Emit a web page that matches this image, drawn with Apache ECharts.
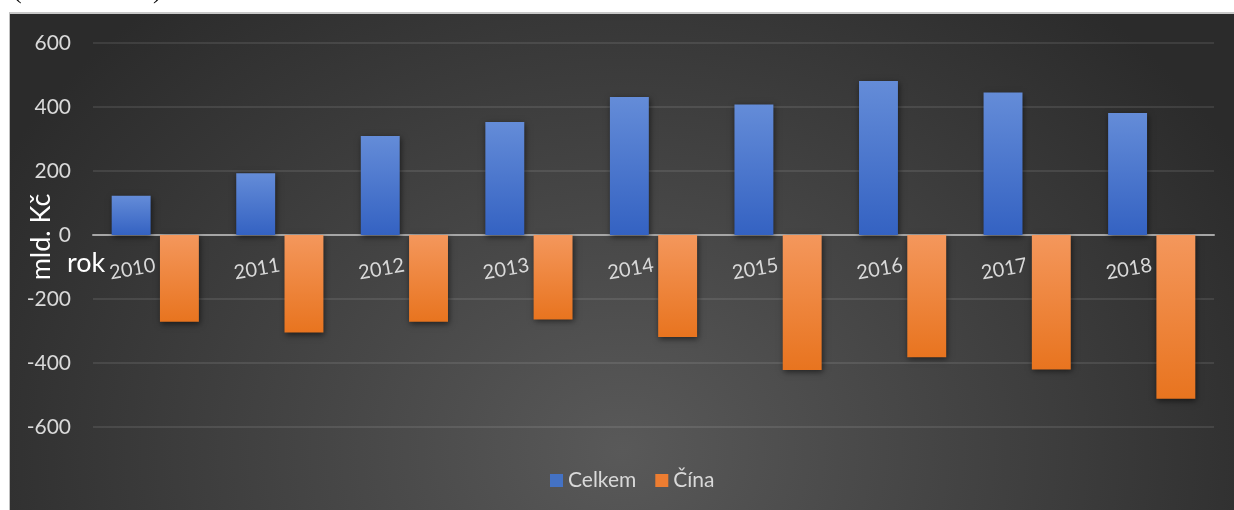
<!DOCTYPE html>
<html>
<head>
<meta charset="utf-8">
<script src="https://cdn.jsdelivr.net/npm/echarts@6/dist/echarts.min.js"></script>
<style>
  html, body { margin: 0; padding: 0; background: #ffffff; width: 1234px; height: 510px; overflow: hidden; }
  #bg { position: absolute; left: 9px; top: 12px; width: 1225px; height: 498px; box-sizing: border-box;
        border-left: 1px solid #bfbfbf; border-top: 2px solid #c8c8c8;
        background: radial-gradient(ellipse 58% 120% at 50% 88%, #595959 0%, #2b2b2b 100%); }
  #chart { position: absolute; left: 0; top: 0; width: 1234px; height: 510px; }
</style>
</head>
<body>
<div id="bg"></div>
<div id="chart"></div>
<script>
const categories = ['2010', '2011', '2012', '2013', '2014', '2015', '2016', '2017', '2018'];
const celkem = [123, 193, 309, 353, 431, 408, 481, 445, 381];
const cina = [-271, -305, -271, -264, -319, -422, -382, -420, -512];
const seriesNames = ['Celkem', 'Čína'];
const yTicks = { min: -600, max: 600, interval: 200 };

const FONT = 'Lato, Carlito, "Open Sans", sans-serif';

const chart = echarts.init(document.getElementById('chart'), null, { renderer: 'canvas' });

function grad(top, bottom) {
  return new echarts.graphic.LinearGradient(0, 0, 0, 1, [
    { offset: 0, color: top }, { offset: 1, color: bottom }
  ]);
}

chart.setOption({
  backgroundColor: 'transparent',
  animation: false,
  grid: { left: 93, right: 20, top: 43, bottom: 83, containLabel: false },
  legend: {
    left: 545, top: 465,
    itemWidth: 13, itemHeight: 13, itemGap: 19,
    icon: 'rect',
    textStyle: { color: '#d9d9d9', fontSize: 21, fontFamily: FONT },
    data: [
      { name: seriesNames[0], itemStyle: { color: '#4472c4' } },
      { name: seriesNames[1], itemStyle: { color: '#ed7d31' } }
    ]
  },
  xAxis: {
    type: 'category',
    data: categories,
    position: 'bottom',
    offset: -192,
    axisLine: { onZero: false, lineStyle: { color: '#a6a6a6', width: 2 } },
    axisTick: { show: false },
    axisLabel: { rotate: 10, margin: 30, color: '#d9d9d9', fontSize: 20, fontFamily: FONT }
  },
  yAxis: {
    type: 'value',
    min: yTicks.min, max: yTicks.max, interval: yTicks.interval,
    axisLine: { show: false },
    axisTick: { show: false },
    axisLabel: { margin: 22, color: '#d9d9d9', fontSize: 21, fontFamily: FONT },
    splitLine: { lineStyle: { color: 'rgba(255,255,255,0.13)', width: 1.5 } }
  },
  series: [
    {
      name: seriesNames[0], type: 'bar', data: celkem,
      barCategoryGap: '30%', barGap: '24%',
      itemStyle: { color: grad('#648cd8', '#3462c2'), shadowBlur: 6, shadowColor: 'rgba(0,0,0,0.55)', shadowOffsetX: 1, shadowOffsetY: 2 }
    },
    {
      name: seriesNames[1], type: 'bar', data: cina,
      barCategoryGap: '30%', barGap: '24%',
      itemStyle: { color: grad('#f4975c', '#e8741f'), shadowBlur: 6, shadowColor: 'rgba(0,0,0,0.55)', shadowOffsetX: 1, shadowOffsetY: 2 }
    }
  ],
  graphic: [
    { type: 'text', x: 41, y: 237, rotation: Math.PI / 2,
      style: { text: 'mld. Kč', align: 'center', verticalAlign: 'middle', fill: '#ffffff', fontSize: 27, fontFamily: FONT } },
    { type: 'text', x: 67, y: 263,
      style: { text: 'rok', align: 'left', verticalAlign: 'middle', fill: '#ffffff', fontSize: 27, fontFamily: FONT } },
    { type: 'text', x: 13, y: -9,
      style: { text: '(', align: 'left', verticalAlign: 'middle', fill: '#000000', fontSize: 26, fontFamily: '"Liberation Serif", serif' } },
    { type: 'text', x: 153, y: -9,
      style: { text: ')', align: 'left', verticalAlign: 'middle', fill: '#000000', fontSize: 26, fontFamily: '"Liberation Serif", serif' } }
  ]
});
</script>
</body>
</html>
